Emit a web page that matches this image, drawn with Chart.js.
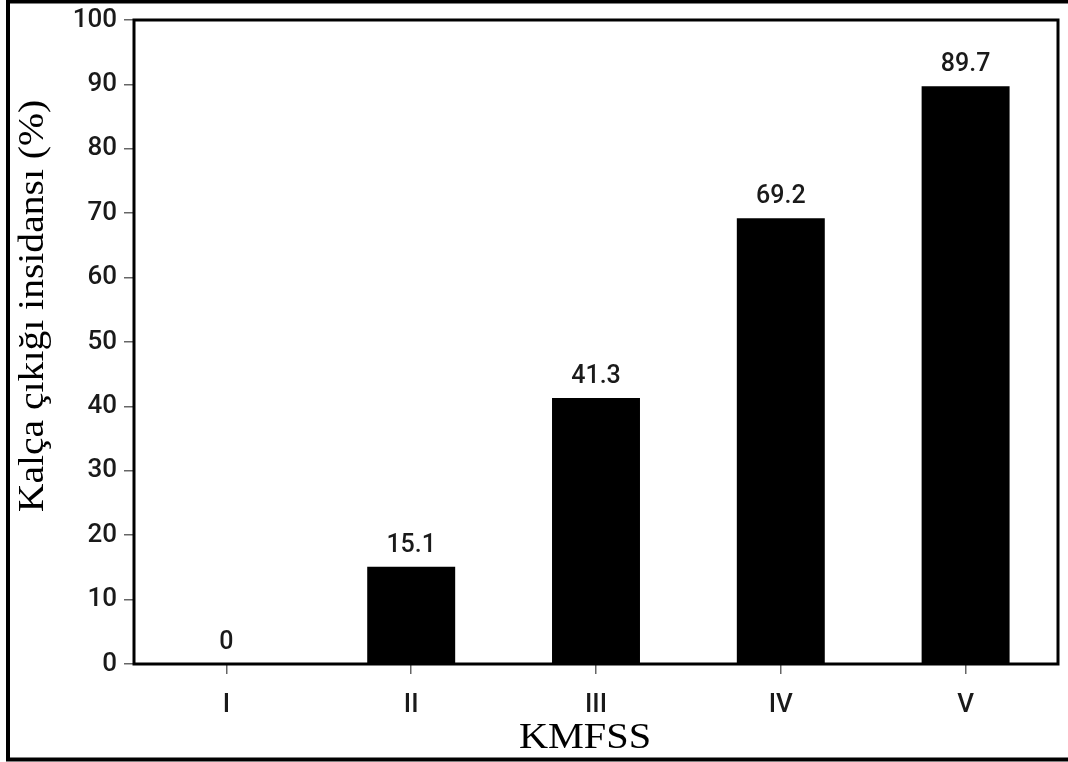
<!DOCTYPE html>
<html>
<head>
<meta charset="utf-8">
<script src="https://cdn.jsdelivr.net/npm/chart.js@4.4.1/dist/chart.umd.min.js"></script>
<style>
  html, body { margin: 0; padding: 0; background: #fff; }
</style>
</head>
<body>
<canvas id="chart" width="1068" height="762"></canvas>
<script>
// data
const categories = ['I', 'II', 'III', 'IV', 'V'];
const incidence = [0, 15.1, 41.3, 69.2, 89.7];
const yTicks = [0, 10, 20, 30, 40, 50, 60, 70, 80, 90, 100];
const yTitle = 'Kalça çıkığı insidansı (%)';
const xTitle = 'KMFSS';

const tickFont = { family: "Roboto, 'Liberation Sans', sans-serif", size: 26, weight: 500, lineHeight: 1 };
const titleFont = "36px 'Liberation Serif', 'Times New Roman', serif";

// outer frame, plot frame, value labels and the two axis titles
const framePlugin = {
    id: 'frame',
    afterDatasetsDraw(chart) {
        const ctx = chart.ctx;
        const a = chart.chartArea;
        ctx.save();

        // value labels above the bars
        ctx.fillStyle = '#1a1a1a';
        ctx.font = `500 25px ${tickFont.family}`;
        ctx.textAlign = 'center';
        ctx.textBaseline = 'alphabetic';
        chart.getDatasetMeta(0).data.forEach((bar, i) => {
            ctx.fillText(String(incidence[i]), bar.x, bar.y - 15);
        });

        // plot box
        ctx.strokeStyle = '#000';
        ctx.lineWidth = 3;
        ctx.strokeRect(a.left, a.top, a.right - a.left, a.bottom - a.top);

        // outer border
        ctx.lineWidth = 4;
        ctx.beginPath();
        ctx.moveTo(1072, 1.5);
        ctx.lineTo(8, 1.5);
        ctx.lineTo(8, 759.5);
        ctx.lineTo(1072, 759.5);
        ctx.stroke();

        // axis titles (serif, slightly stretched like the original)
        ctx.fillStyle = '#000';
        ctx.font = titleFont;
        ctx.textAlign = 'center';
        ctx.textBaseline = 'alphabetic';

        ctx.save();
        ctx.translate(585, 748);
        ctx.scale(1.12, 1);
        ctx.fillText(xTitle, 0, 0);
        ctx.restore();

        ctx.save();
        ctx.translate(43, 306);
        ctx.rotate(-Math.PI / 2);
        ctx.scale(1.1, 1);
        ctx.fillText(yTitle, 0, 0);
        ctx.restore();

        ctx.restore();
    }
};

const ctx = document.getElementById('chart').getContext('2d');

new Chart(ctx, {
    type: 'bar',
    data: {
        labels: categories,
        datasets: [{
            data: incidence,
            backgroundColor: '#000',
            borderWidth: 0,
            barPercentage: 0.476,
            categoryPercentage: 1.0,
        }]
    },
    options: {
        responsive: false,
        animation: false,
        devicePixelRatio: 1,
        layout: {
            padding: { top: 10, right: 10, left: 0, bottom: 0 }
        },
        plugins: {
            legend: { display: false },
            tooltip: { enabled: false },
        },
        scales: {
            x: {
                grid: {
                    offset: false,
                    drawOnChartArea: false,
                    drawTicks: true,
                    tickLength: 10,
                    color: '#666',
                    lineWidth: 1.5,
                },
                border: { display: false },
                ticks: {
                    color: '#1a1a1a',
                    font: tickFont,
                    padding: 18,
                },
                afterFit: (scale) => { scale.height = 98; },
            },
            y: {
                min: 0,
                max: 100,
                grid: {
                    drawOnChartArea: false,
                    drawTicks: true,
                    tickLength: 10,
                    color: '#666',
                    lineWidth: 1.5,
                },
                border: { display: false },
                ticks: {
                    color: '#1a1a1a',
                    font: tickFont,
                    padding: 7,
                },
                afterBuildTicks: (scale) => {
                    scale.ticks = yTicks.map(v => ({ value: v }));
                },
                afterFit: (scale) => { scale.width = 134; },
            }
        }
    },
    plugins: [framePlugin]
});
</script>
</body>
</html>
